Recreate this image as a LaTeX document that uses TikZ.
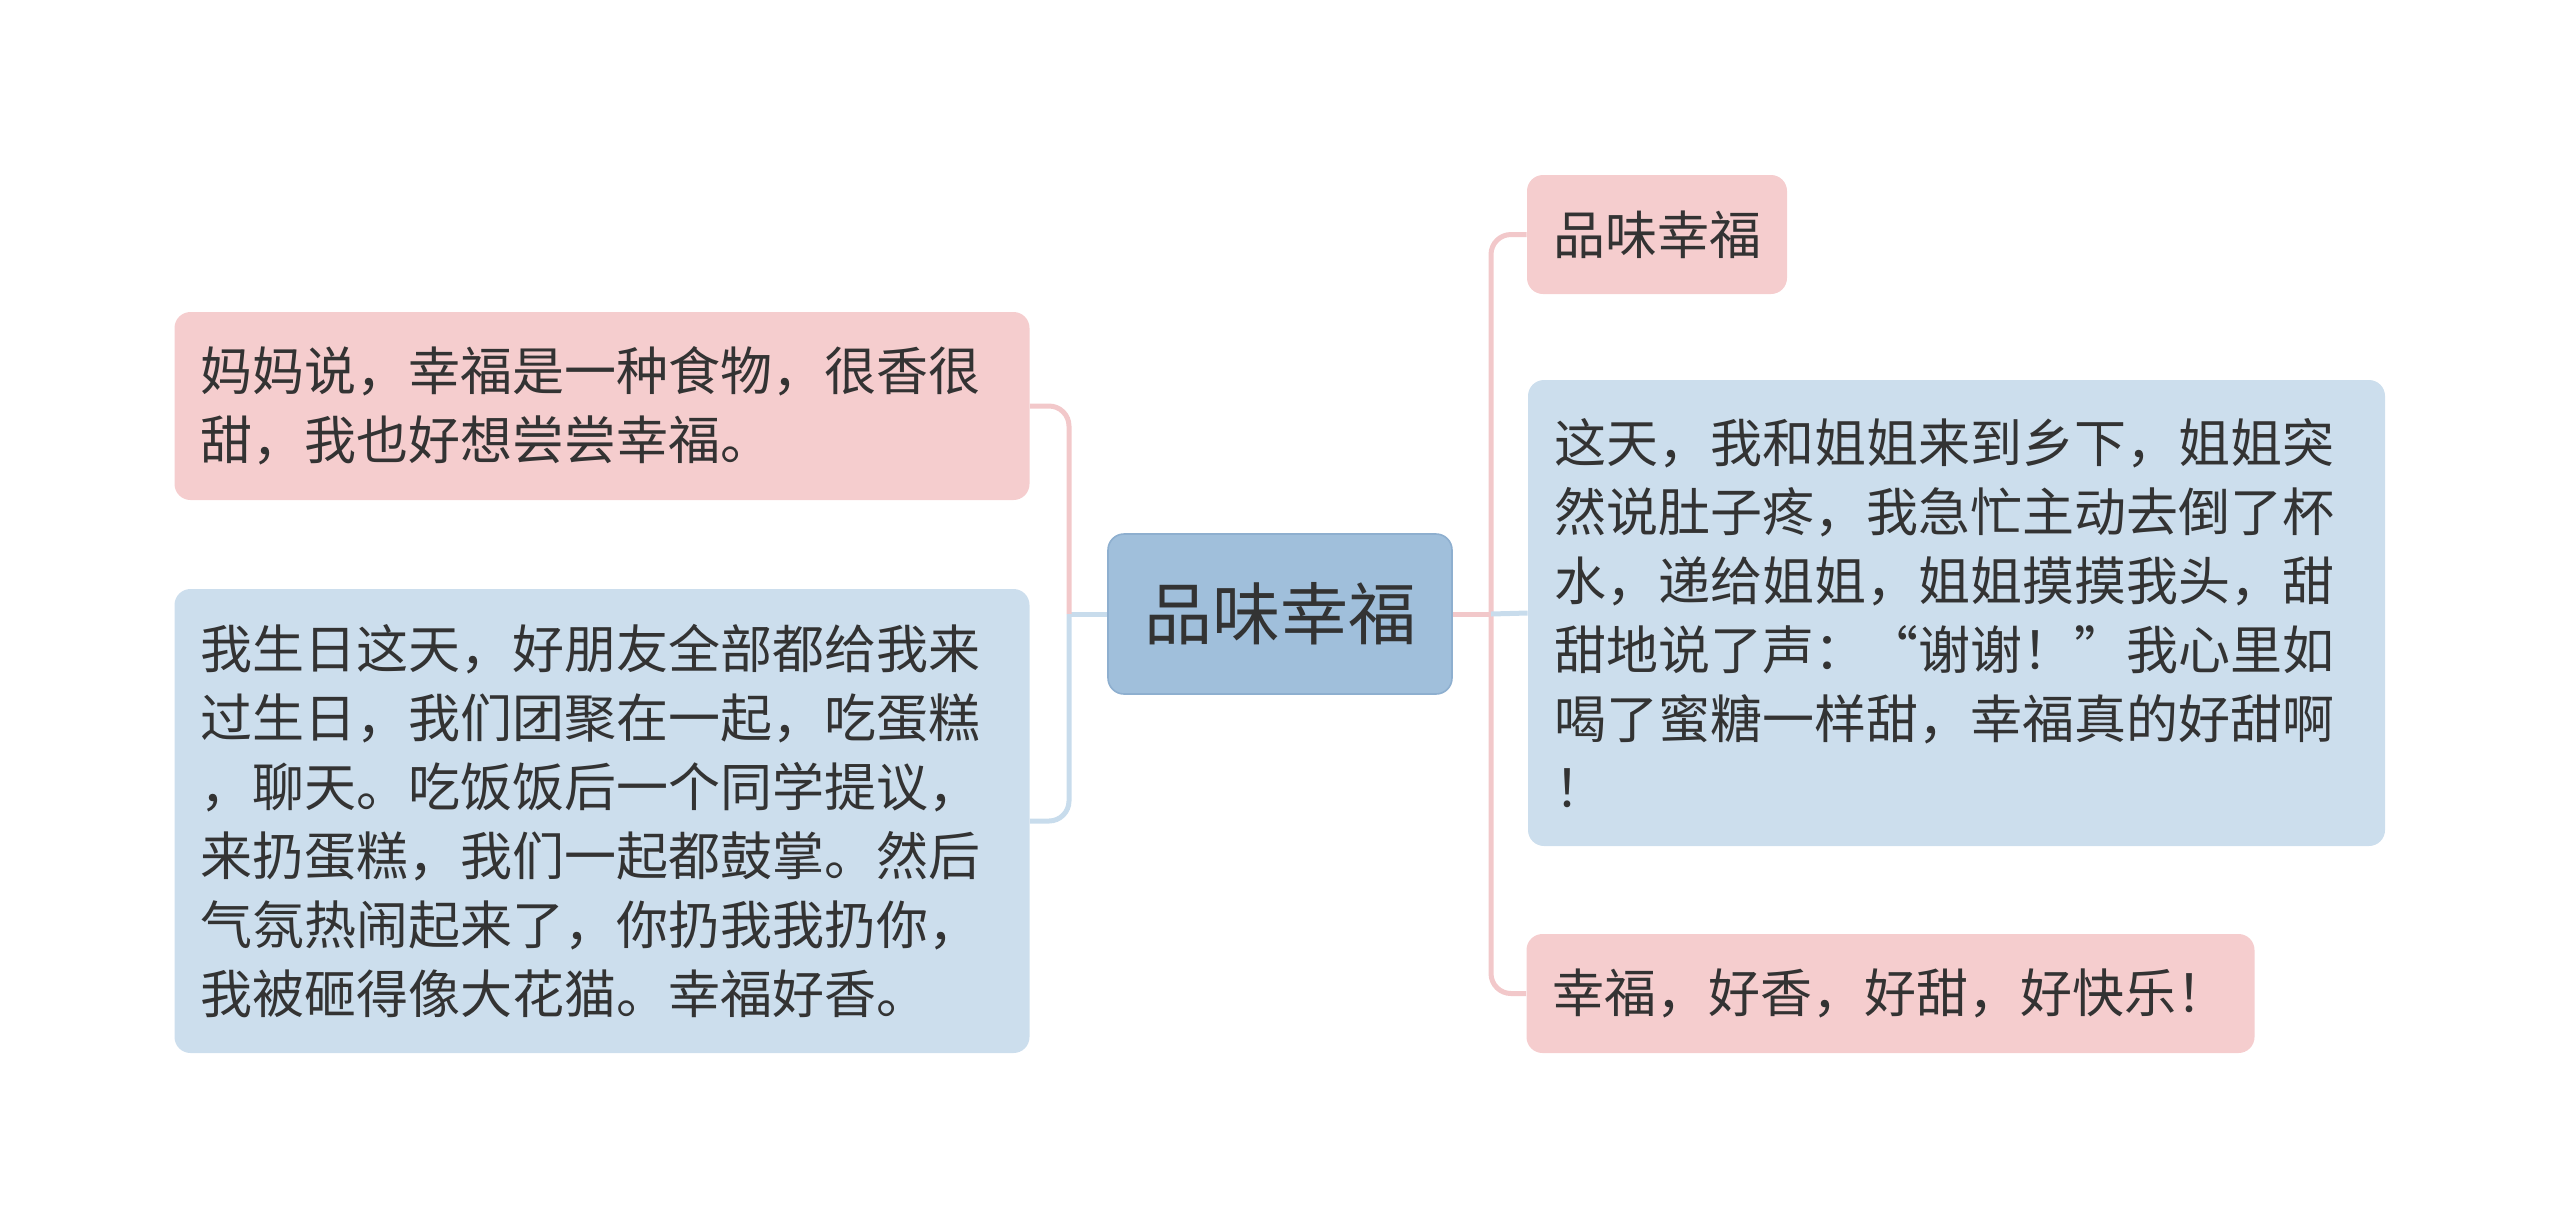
\documentclass[tikz,border=0pt]{standalone}
\usepackage{fontspec}
\usepackage{tikz}
\usetikzlibrary{positioning,calc}
\newfontfamily\cjk{Noto Sans CJK SC}
\definecolor{MapPink}{HTML}{F5CDCE}
\definecolor{MapBlue}{HTML}{CCDEED}
\definecolor{MapRoot}{HTML}{A0BFDB}
\definecolor{MapRootEdge}{HTML}{8EAFCF}
\definecolor{MapPinkLine}{HTML}{F2C8CA}
\definecolor{MapBlueLine}{HTML}{C8DCEC}
\definecolor{MapText}{HTML}{333333}

\begin{document}
\begin{tikzpicture}[
        x=0.5pt,y=-0.5pt,
        root/.style={draw=MapRootEdge,line width=0.8pt,fill=MapRoot,rounded corners=8pt,minimum width=172pt,minimum height=80pt,inner sep=0pt,font=\cjk\fontsize{34pt}{40pt}\selectfont,text=MapText},
        topic/.style={rounded corners=8pt,inner xsep=13pt,inner ysep=0pt,align=left,font=\cjk\fontsize{26pt}{34.5pt}\selectfont,text=MapText},
        pinkbox/.style={topic,fill=MapPink},
        bluebox/.style={topic,fill=MapBlue},
        pinkline/.style={draw=MapPinkLine,line width=2.5pt,rounded corners=10pt},
        blueline/.style={draw=MapBlueLine,line width=2.5pt,rounded corners=10pt}
      ]
        \useasboundingbox (0,0) rectangle (2560,1228);
        \node[root] (root) at (1280,614) {品味幸福};
        % left side
        \node[pinkbox,text width=401.5pt,minimum height=94pt] (l1) at (602,406)
          {妈妈说，幸福是一种食物，很香很\\甜，我也好想尝尝幸福。};
        \node[bluebox,text width=401.5pt,minimum height=232pt] (l2) at (602,821)
          {我生日这天，好朋友全部都给我来\\过生日，我们团聚在一起，吃蛋糕\\，聊天。吃饭饭后一个同学提议，\\来扔蛋糕，我们一起都鼓掌。然后\\气氛热闹起来了，你扔我我扔你，\\我被砸得像大花猫。幸福好香。};
        % right side
        \node[pinkbox,minimum width=129pt,minimum height=59.5pt] (r1) at (1657,234.5) {品味幸福};
        \node[bluebox,text width=402.5pt,minimum height=233pt] (r2) at (1956.5,613)
          {这天，我和姐姐来到乡下，姐姐突\\然说肚子疼，我急忙主动去倒了杯\\水，递给姐姐，姐姐摸摸我头，甜\\甜地说了声：“谢谢！”我心里如\\喝了蜜糖一样甜，幸福真的好甜啊\\！};
        \node[pinkbox,minimum width=362.5pt,minimum height=59.5pt] (r3) at (1890.5,993.5) {幸福，好香，好甜，好快乐！};
        \coordinate (lj) at (1069,614);
        \coordinate (rj) at (1491,614);
        \draw[blueline] (root.west) -- (lj);
        \draw[pinkline] (lj) |- (l1.east);
        \draw[blueline] (lj) |- (l2.east);
        \draw[pinkline] (root.east) -- (rj);
        \draw[pinkline] (r1.west) -| (rj) |- (r3.west);
        \draw[blueline] (rj) -- (r2.west);
      \end{tikzpicture}
\end{document}
